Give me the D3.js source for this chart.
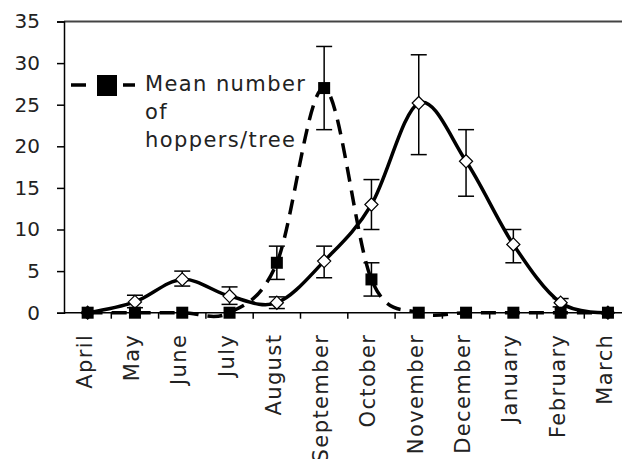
<html>
<head>
  <title>Hoppers per tree</title>
  <script src='https://d3js.org/d3.v7.min.js'></script>
  <style>
    body { margin: 0; background: white; }
    text { font-family: 'DejaVu Sans', sans-serif; fill: #222; }
  </style>
</head>
<body>
<script>

// months on the x axis
var months = ["April", "May", "June", "July", "August", "September",
              "October", "November", "December", "January", "February", "March"];

// dashed series: mean number of hoppers/tree
var hoppers    = [0, 0, 0, 0, 6, 27, 4, 0, 0, 0, 0, 0];
var hoppersLow = [0, 0, 0, 0, 4, 22, 2, 0, 0, 0, 0, 0];
var hoppersHi  = [0, 0, 0, 0, 8, 32, 6, 0, 0, 0, 0, 0];

// solid series (open diamonds)
var second     = [0, 1.3, 4, 2, 1.2, 6.2, 13, 25.2, 18.2, 8.2, 1.2, 0];
var secondLow  = [0, 0.6, 3.2, 1, 0.5, 4.2, 10, 19, 14, 6, 0.7, 0];
var secondHi   = [0, 2.1, 5, 3.1, 1.9, 8, 16, 31, 22, 10, 1.7, 0];

var yTicks = [0, 5, 10, 15, 20, 25, 30, 35];

var width = 622,
    height = 459,
    plotLeft = 64,
    bandW = 47.3,
    plotTop = 21.5,
    plotBottom = 312.7;

var svg = d3.select('body')
  .append('svg')
  .attr('width', width)
  .attr('height', height);

var x = d3.scaleBand()
  .domain(months)
  .range([plotLeft, plotLeft + bandW * months.length]);

var y = d3.scaleLinear()
  .domain([0, 35])
  .range([plotBottom, plotTop]);

function cx(i) { return x(months[i]) + x.bandwidth() / 2; }

// top frame line
svg.append('line')
  .attr('x1', plotLeft).attr('x2', width)
  .attr('y1', plotTop).attr('y2', plotTop)
  .attr('stroke', '#444')
  .attr('stroke-width', 2);

// y axis
var yAxis = svg.append('g')
  .attr('transform', 'translate(' + plotLeft + ',0)')
  .call(d3.axisLeft(y).tickValues(yTicks).tickSize(7).tickPadding(17));
yAxis.select('.domain').attr('stroke', 'black').attr('stroke-width', 1.5);
yAxis.selectAll('.tick line').attr('stroke', 'black').attr('stroke-width', 1.5);
yAxis.selectAll('text')
  .attr('font-size', 20)
  .attr('font-family', 'DejaVu Sans')
  .attr('fill', '#222');

// x axis line and ticks at band edges
svg.append('line')
  .attr('x1', plotLeft).attr('x2', width)
  .attr('y1', plotBottom).attr('y2', plotBottom)
  .attr('stroke', 'black')
  .attr('stroke-width', 1.5);

svg.selectAll('line.xtick')
  .data(months)
  .enter()
  .append('line')
  .attr('class', 'xtick')
  .attr('x1', function(d) { return x(d) + x.bandwidth(); })
  .attr('x2', function(d) { return x(d) + x.bandwidth(); })
  .attr('y1', plotBottom)
  .attr('y2', plotBottom + 6)
  .attr('stroke', 'black')
  .attr('stroke-width', 1.5);

svg.selectAll('text.month')
  .data(months)
  .enter()
  .append('text')
  .attr('class', 'month')
  .attr('transform', function(d, i) {
    return 'translate(' + (cx(i) + 4) + ',' + (plotBottom + 21) + ')rotate(-90)';
  })
  .attr('text-anchor', 'end')
  .attr('font-size', 21)
  .attr('letter-spacing', 1.4)
  .text(function(d) { return d; });

// smoothed lines
var line = d3.line()
  .x(function(d, i) { return cx(i); })
  .y(function(d) { return y(d); })
  .curve(d3.curveCardinal.tension(0));

svg.append('path')
  .datum(second)
  .attr('d', line)
  .attr('fill', 'none')
  .attr('stroke', 'black')
  .attr('stroke-width', 3.5);

svg.append('path')
  .datum(hoppers)
  .attr('d', line)
  .attr('fill', 'none')
  .attr('stroke', 'black')
  .attr('stroke-width', 3.5)
  .attr('stroke-dasharray', '15,9');

// error bars
function errorBars(lo, hi) {
  var g = svg.append('g');
  months.forEach(function(m, i) {
    if (hi[i] - lo[i] <= 0) return;
    g.append('line')
      .attr('x1', cx(i)).attr('x2', cx(i))
      .attr('y1', y(lo[i])).attr('y2', y(hi[i]))
      .attr('stroke', 'black').attr('stroke-width', 1.5);
    [lo[i], hi[i]].forEach(function(v) {
      g.append('line')
        .attr('x1', cx(i) - 8).attr('x2', cx(i) + 8)
        .attr('y1', y(v)).attr('y2', y(v))
        .attr('stroke', 'black').attr('stroke-width', 1.5);
    });
  });
}
errorBars(secondLow, secondHi);
errorBars(hoppersLow, hoppersHi);

// markers
var diamond = d3.symbol().type(d3.symbolDiamond2).size(110);

svg.selectAll('path.diamond')
  .data(second)
  .enter()
  .append('path')
  .attr('class', 'diamond')
  .attr('d', diamond)
  .attr('transform', function(d, i) { return 'translate(' + cx(i) + ',' + y(d) + ')'; })
  .attr('fill', function(d) { return d === 0 ? 'black' : 'white'; })
  .attr('stroke', 'black')
  .attr('stroke-width', 1.2);

svg.selectAll('rect.square')
  .data(hoppers)
  .enter()
  .append('rect')
  .attr('class', 'square')
  .attr('x', function(d, i) { return cx(i) - 6; })
  .attr('y', function(d) { return y(d) - 6; })
  .attr('width', 12)
  .attr('height', 12)
  .attr('fill', 'black');

// legend
var legend = svg.append('g');
legend.append('line')
  .attr('x1', 71).attr('x2', 135)
  .attr('y1', 85).attr('y2', 85)
  .attr('stroke', 'black')
  .attr('stroke-width', 3.5)
  .attr('stroke-dasharray', '15,11');
legend.append('rect')
  .attr('x', 97).attr('y', 75)
  .attr('width', 20).attr('height', 21)
  .attr('fill', 'black');

var legendLines = ["Mean number", "of", "hoppers/tree"];
legend.selectAll('text')
  .data(legendLines)
  .enter()
  .append('text')
  .attr('x', 145)
  .attr('y', function(d, i) { return 91 + i * 28; })
  .attr('font-size', 21)
  .attr('letter-spacing', 1.4)
  .text(function(d) { return d; });

</script>
</body>
</html>
